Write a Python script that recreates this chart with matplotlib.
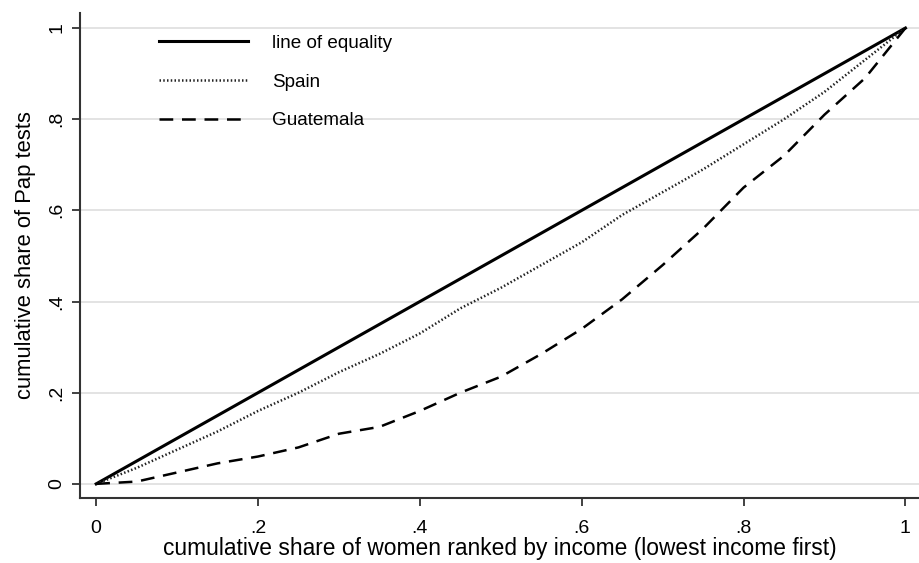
import numpy as np
import matplotlib
matplotlib.use("Agg")
import matplotlib.pyplot as plt

plt.rcParams["font.family"] = ["Liberation Sans", "DejaVu Sans"]

# cumulative share of women (ranked by income) and of Pap tests
equality_x = [0.0, 1.0]
equality_y = [0.0, 1.0]

spain_x = [0.0, 0.05, 0.1, 0.15, 0.2, 0.25, 0.3, 0.35, 0.4, 0.45, 0.5, 0.55,
           0.6, 0.65, 0.7, 0.75, 0.8, 0.85, 0.9, 0.95, 1.0]
spain_y = [0.0, 0.035, 0.075, 0.115, 0.16, 0.20, 0.245, 0.285, 0.33, 0.385, 0.43, 0.48,
           0.53, 0.59, 0.64, 0.69, 0.745, 0.80, 0.86, 0.93, 1.0]

guate_x = [0.0, 0.05, 0.1, 0.15, 0.2, 0.25, 0.3, 0.35, 0.4, 0.45, 0.5, 0.55,
           0.6, 0.65, 0.7, 0.75, 0.8, 0.85, 0.9, 0.95, 1.0]
guate_y = [0.0, 0.005, 0.025, 0.045, 0.06, 0.08, 0.11, 0.125, 0.16, 0.2, 0.235, 0.285,
           0.34, 0.405, 0.48, 0.56, 0.65, 0.72, 0.81, 0.89, 1.0]

xticks = [0, 0.2, 0.4, 0.6, 0.8, 1.0]
xtick_labels = ["0", ".2", ".4", ".6", ".8", "1"]
yticks = [0, 0.2, 0.4, 0.6, 0.8, 1.0]
ytick_labels = ["0", ".2", ".4", ".6", ".8", "1"]

fig = plt.figure(figsize=(9.2, 5.63), dpi=100)
ax = fig.add_axes([80 / 920, 65 / 563, 840 / 920, 485 / 563])

ax.plot(equality_x, equality_y, color="black", lw=2.2, label="line of equality")
ax.plot(spain_x, spain_y, color="#222222", lw=1.8, ls=(0, (0.6, 0.9)),
        label="Spain")
ax.plot(guate_x, guate_y, color="black", lw=1.8, ls=(0, (5.5, 3.5)),
        label="Guatemala")

ax.set_xlim(-0.02, 1.018)
ax.set_ylim(-0.031, 1.033)
ax.set_xticks(xticks)
ax.set_xticklabels(xtick_labels, fontsize=14)
ax.set_yticks(yticks)
ax.set_yticklabels(ytick_labels, fontsize=14, rotation=90, va="center")
ax.tick_params(axis="both", direction="out", length=6, width=1.3, color="#333333")
ax.tick_params(axis="x", pad=10)
ax.tick_params(axis="y", pad=4.5)
ax.grid(axis="y", color="#e0e0e0", lw=1.3)
ax.set_axisbelow(True)
for s in ("top", "right"):
    ax.spines[s].set_visible(False)
for s in ("left", "bottom"):
    ax.spines[s].set_linewidth(1.5)
    ax.spines[s].set_color("#333333")

ax.set_xlabel("cumulative share of women ranked by income (lowest income first)",
              fontsize=16.4, labelpad=0)
ax.set_ylabel("cumulative share of Pap tests", fontsize=15.8, labelpad=9)

ax.legend(loc="upper left", bbox_to_anchor=(0.074, 0.99), frameon=False,
          fontsize=13.6, handlelength=4.7, handletextpad=1.3, labelspacing=1.13)

fig.savefig("out.png", dpi=100)
